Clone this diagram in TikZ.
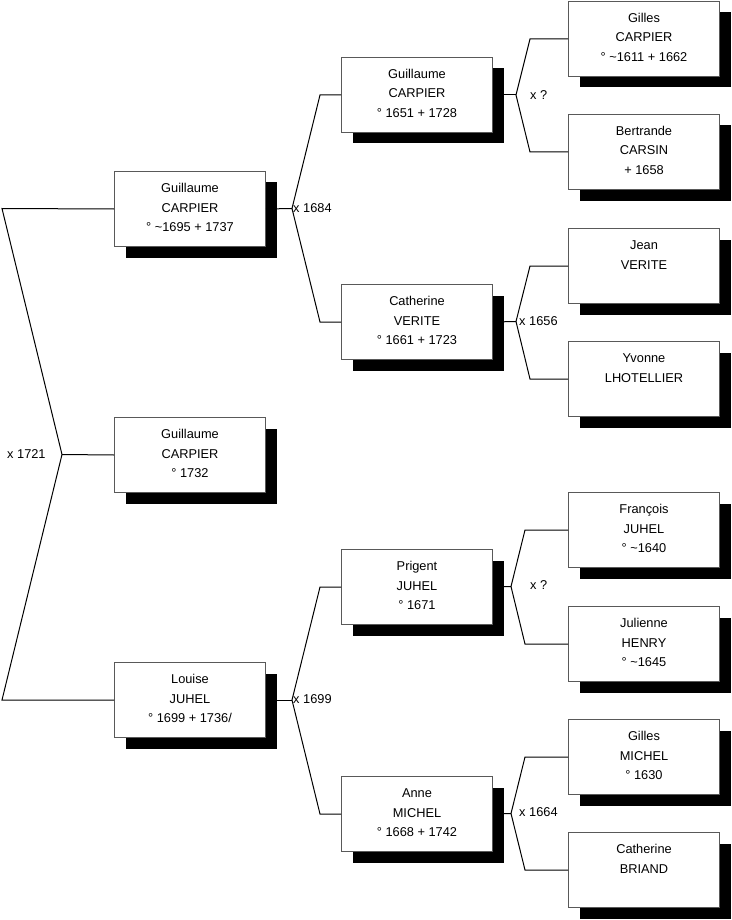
\documentclass[tikz,border=0pt]{standalone}
\usepackage{fontspec}
\setmainfont{Liberation Sans}
\usetikzlibrary{shadows}
\newcommand{\personbox}[3]{\parbox[c][75pt][t]{151pt}{\centering\fontsize{12.8pt}{19.5pt}\selectfont\rule{0pt}{21pt}#1\\#2\\#3}}
\tikzset{
  person/.style={draw=black!65, line width=1pt, fill=white, inner sep=0pt, anchor=north west,
    drop shadow={shadow xshift=11pt, shadow yshift=-11pt, fill=black, opacity=1}},
  link/.style={draw=black, line width=1pt},
  marr/.style={anchor=west, inner sep=1pt, font=\fontsize{12.8pt}{15pt}\selectfont}
}
\begin{document}
\begin{tikzpicture}[x=1pt,y=-1pt]
\useasboundingbox[fill=white] (0,0) rectangle (731,920);
% generation 1
\node[person] (g1) at (114,171) {\personbox{Guillaume}{CARPIER}{° \textasciitilde1695 + 1737}};
\node[person] (ch) at (114,417) {\personbox{Guillaume}{CARPIER}{° 1732}};
\node[person] (l1) at (114,662) {\personbox{Louise}{JUHEL}{° 1699 + 1736/}};
% generation 2
\node[person] (g2) at (341,57) {\personbox{Guillaume}{CARPIER}{° 1651 + 1728}};
\node[person] (c2) at (341,284) {\personbox{Catherine}{VERITE}{° 1661 + 1723}};
\node[person] (p2) at (341,549) {\personbox{Prigent}{JUHEL}{° 1671}};
\node[person] (a2) at (341,776) {\personbox{Anne}{MICHEL}{° 1668 + 1742}};
% generation 3
\node[person] (gc3) at (568,1) {\personbox{Gilles}{CARPIER}{° \textasciitilde1611 + 1662}};
\node[person] (bc3) at (568,114) {\personbox{Bertrande}{CARSIN}{+ 1658}};
\node[person] (jv3) at (568,228) {\personbox{Jean}{VERITE}{~}};
\node[person] (yl3) at (568,341) {\personbox{Yvonne}{LHOTELLIER}{~}};
\node[person] (fj3) at (568,492) {\personbox{François}{JUHEL}{° \textasciitilde1640}};
\node[person] (jh3) at (568,606) {\personbox{Julienne}{HENRY}{° \textasciitilde1645}};
\node[person] (gm3) at (568,719) {\personbox{Gilles}{MICHEL}{° 1630}};
\node[person] (cb3) at (568,832) {\personbox{Catherine}{BRIAND}{~}};
% vertices
\coordinate (v0) at (62,454.5);
\coordinate (v1) at (292,208.5);
\coordinate (v2) at (292,700);
\coordinate (v3) at (516,95);
\coordinate (v4) at (516,321.5);
\coordinate (v5) at (511,586.5);
\coordinate (v6) at (511,813.5);
% brackets
\draw[link] (g1.west) -- (2,208.5) -- (v0) -- (2,700) -- (l1.west);
\draw[link] (ch.west) -- (v0);
\draw[link] (g1.east) -- (v1);
\draw[link] (g2.west) -- ++(-21,0) -- (v1) -- ([xshift=-21pt]c2.west) -- (c2.west);
\draw[link] (l1.east) -- (v2);
\draw[link] (p2.west) -- ++(-21,0) -- (v2) -- ([xshift=-21pt]a2.west) -- (a2.west);
\draw[link] (g2.east) -- (v3);
\draw[link] (gc3.west) -- ++(-38,0) -- (v3) -- ([xshift=-38pt]bc3.west) -- (bc3.west);
\draw[link] (c2.east) -- (v4);
\draw[link] (jv3.west) -- ++(-38,0) -- (v4) -- ([xshift=-38pt]yl3.west) -- (yl3.west);
\draw[link] (p2.east) -- (v5);
\draw[link] (fj3.west) -- ++(-43,0) -- (v5) -- ([xshift=-43pt]jh3.west) -- (jh3.west);
\draw[link] (a2.east) -- (v6);
\draw[link] (gm3.west) -- ++(-43,0) -- (v6) -- ([xshift=-43pt]cb3.west) -- (cb3.west);
% marriage labels
\node[marr] (m0) at (6,454) {x 1721};
\node[marr] (m1) at (292,208) {x 1684};
\node[marr] (m2) at (292,699) {x 1699};
\node[marr] (m3) at (529,95) {x ?};
\node[marr] (m4) at (518,321) {x 1656};
\node[marr] (m5) at (529,585) {x ?};
\node[marr] (m6) at (518,812) {x 1664};
\end{tikzpicture}
\end{document}
